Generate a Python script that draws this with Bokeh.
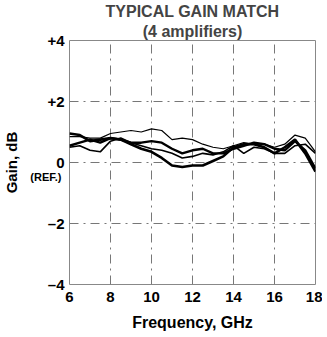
from bokeh.plotting import figure
from bokeh.models import Range1d, FixedTicker, Title, LinearAxis
from bokeh.embed import file_html
from bokeh.resources import INLINE

freq = [6.0, 6.5, 7.0, 7.5, 8.0, 8.5, 9.0, 9.5, 10.0, 10.5, 11.0, 11.5, 12.0,
        12.5, 13.0, 13.5, 14.0, 14.5, 15.0, 15.5, 16.0, 16.5, 17.0, 17.5, 18.0]

amp1 = [0.85, 0.85, 0.80, 0.80, 0.95, 1.00, 1.05, 1.00, 1.10, 1.05, 0.75, 0.80, 0.75,
        0.60, 0.50, 0.45, 0.55, 0.65, 0.60, 0.60, 0.50, 0.60, 0.90, 0.80, 0.35]
amp2 = [0.95, 0.90, 0.70, 0.75, 0.80, 0.75, 0.60, 0.45, 0.35, 0.15, -0.10, -0.15, -0.10,
        -0.10, 0.05, 0.20, 0.50, 0.60, 0.60, 0.50, 0.30, 0.50, 0.75, 0.30, -0.30]
amp3 = [0.55, 0.65, 0.75, 0.65, 0.80, 0.75, 0.65, 0.65, 0.70, 0.65, 0.45, 0.30, 0.40,
        0.45, 0.30, 0.30, 0.45, 0.55, 0.65, 0.60, 0.45, 0.40, 0.70, 0.40, -0.20]
amp4 = [0.50, 0.55, 0.40, 0.35, 0.70, 0.80, 0.65, 0.55, 0.45, 0.40, 0.30, 0.15, 0.20,
        0.30, 0.25, 0.35, 0.55, 0.30, 0.50, 0.45, 0.30, 0.30, 0.55, 0.60, 0.30]

x_ticks = [6, 8, 10, 12, 14, 16, 18]
y_ticks = [-4, -2, 0, 2, 4]
y_tick_labels = {-4: "\u20134", -2: "\u20132", 0: "0", 2: "+2", 4: "+4"}
ref_tick = -0.48
ref_label = "(REF.)"

FONT = "Liberation Sans"

p = figure(output_backend="svg", toolbar_location=None,
           x_range=Range1d(6, 18), y_range=Range1d(-4, 4),
           frame_width=246, frame_height=244,
           min_border_left=62, min_border_top=37, min_border_right=7, min_border_bottom=44)
p.background_fill_color = "white"
p.border_fill_color = "white"
p.outline_line_color = "#888888"
p.outline_line_width = 1

ref_axis = LinearAxis(ticker=FixedTicker(ticks=[ref_tick]),
                      major_label_overrides={ref_tick: ref_label})
p.add_layout(ref_axis, "left")

for ax in (p.xaxis[0], p.yaxis[0], ref_axis):
    ax.axis_line_color = None
    ax.major_tick_line_color = None
    ax.minor_tick_line_color = None
    ax.major_tick_out = 0
    ax.major_tick_in = 0
    ax.minor_tick_out = 0
    ax.minor_tick_in = 0
    ax.major_label_text_font = FONT
    ax.major_label_text_font_style = "bold"
    ax.major_label_text_font_size = "15px"
    ax.major_label_text_color = "black"
    ax.axis_label_text_font = FONT
    ax.axis_label_text_font_style = "bold"
    ax.axis_label_text_font_size = "16px"
    ax.axis_label_text_color = "black"

p.xaxis[0].ticker = FixedTicker(ticks=x_ticks)
p.yaxis[0].ticker = FixedTicker(ticks=y_ticks)
p.yaxis[0].major_label_overrides = {k: v for k, v in y_tick_labels.items()}
p.xaxis[0].major_label_standoff = 7
p.yaxis[0].major_label_standoff = 5
p.xaxis[0].axis_label = "Frequency, GHz"
p.xaxis[0].axis_label_standoff = 9

ref_axis.major_label_text_font_size = "11px"
ref_axis.major_label_standoff = -17
ref_axis.axis_label = "Gain, dB"
ref_axis.axis_label_text_font_size = "15px"
ref_axis.axis_label_standoff = 7

for g in (p.xgrid[0], p.ygrid[0]):
    g.grid_line_color = "#777777"
    g.grid_line_dash = "9 5 2 5"
    g.grid_line_width = 1
p.xgrid[0].ticker = FixedTicker(ticks=[8, 10, 12, 14, 16])
p.ygrid[0].ticker = FixedTicker(ticks=[-2, 0, 2])

p.line(freq, amp1, line_color="black", line_width=1.2)
p.line(freq, amp2, line_color="black", line_width=2.6)
p.line(freq, amp3, line_color="black", line_width=2.4)
p.line(freq, amp4, line_color="black", line_width=1.6)

p.title.text = "TYPICAL GAIN MATCH"
p.title.align = "center"
p.title.text_font = FONT
p.title.text_font_style = "bold"
p.title.text_font_size = "16px"
p.title.standoff = 0
p.add_layout(Title(text="(4 amplifiers)", align="center", text_font=FONT,
                   text_font_style="bold", text_font_size="16px", standoff=2), "above")

open("out.html", "w").write(file_html(p, INLINE))
